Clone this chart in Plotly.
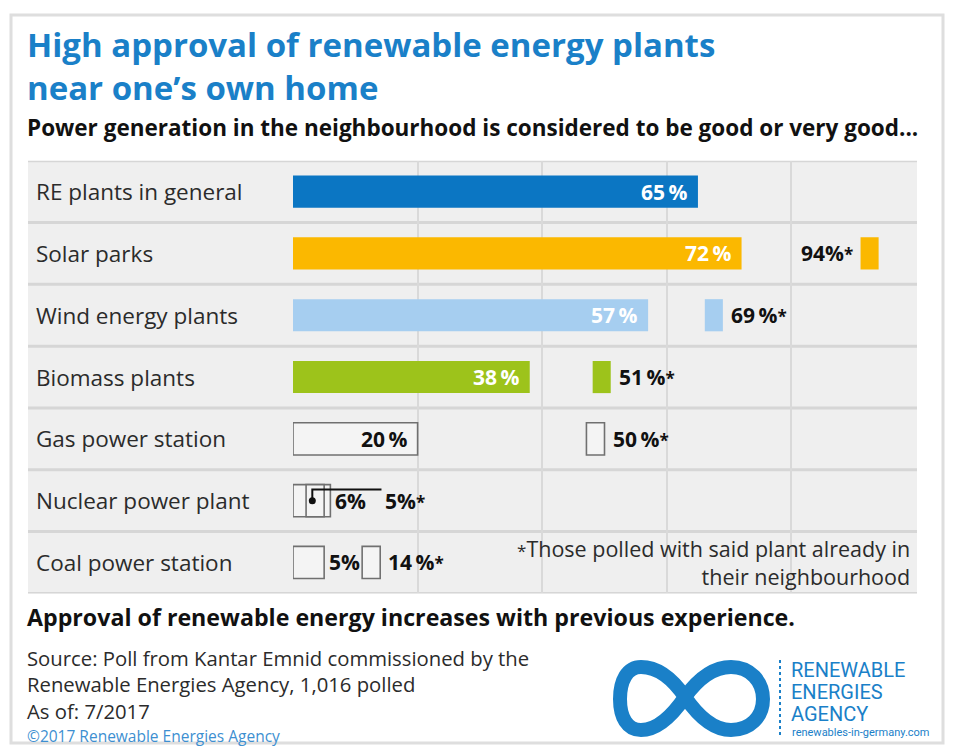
import plotly.graph_objects as go

# page body has an 8px margin: the figure is sized so it fills the rest of the 957x750 window
OFF = 8
W, H = 957 - OFF, 750 - OFF

# ---------------- data ----------------
categories = [
    "RE plants in general",
    "Solar parks",
    "Wind energy plants",
    "Biomass plants",
    "Gas power station",
    "Nuclear power plant",
    "Coal power station",
]
approval = [65, 72, 57, 38, 20, 6, 5]                      # all respondents, %
approval_with_plant = [None, 94, 69, 51, 50, 5, 14]        # * with plant already nearby, %

bar_colors = ["#0b76c3", "#fbb800", "#a6cef0", "#9dc31b", "#f4f4f4", "#f4f4f4", "#f4f4f4"]
outline = [False, False, False, False, True, True, True]

# ---------------- style / layout helpers ----------------
FONT = "Open Sans"
LOGO_FONT = "Roboto"
BLUE = "#1a80c8"
TXT = "#2b2b2b"
X0_PX, X100_PX = 293, 916
ROW_TOP_PX, ROW_BOT_PX = 160.7, 593.4
LABEL_LEFT_PX, ROWS_LEFT_PX, ROWS_RIGHT_PX = 36, 28, 917
STAR_W = 2.9           # width of the narrow "*" marker bars, in % units
AST = '<span style="font-size:17px">*</span>'


def px(x):
    return (x - OFF) / W


def py(y):
    return 1 - (y - OFF) / H


line_colors = ["#707070" if o else "rgba(0,0,0,0)" for o in outline]
line_widths = [1.6 if o else 0 for o in outline]

fig = go.Figure()

# main bars
fig.add_trace(go.Bar(
    x=approval, y=categories, orientation="h", width=0.52,
    marker=dict(color=bar_colors, line=dict(color=line_colors, width=line_widths)),
    hoverinfo="skip",
))

# narrow "*" bars (end at the value)
star_len = [STAR_W if v is not None else None for v in approval_with_plant]
star_base = [v - STAR_W if v is not None else None for v in approval_with_plant]
fig.add_trace(go.Bar(
    x=star_len, base=star_base, y=categories, orientation="h", width=0.52,
    marker=dict(color=bar_colors, line=dict(color=line_colors, width=line_widths)),
    hoverinfo="skip",
))

# leader dot for nuclear "*" value
nuc = categories.index("Nuclear power plant")
lx = approval_with_plant[nuc] - STAR_W + 1.0
lend = approval[nuc] + 8.2
fig.add_trace(go.Scatter(
    x=[lx], y=[categories[nuc]],
    mode="markers", marker=dict(color="#111", size=7), hoverinfo="skip",
))

shapes = []
# outer frame
shapes.append(dict(type="rect", xref="paper", yref="paper",
                   x0=px(11), x1=px(943), y0=py(743), y1=py(15),
                   line=dict(color="#dedede", width=3), fillcolor="white", layer="below"))
# rows background
shapes.append(dict(type="rect", xref="paper", yref="y",
                   x0=px(ROWS_LEFT_PX), x1=px(ROWS_RIGHT_PX), y0=-0.5, y1=len(categories) - 0.5,
                   line=dict(width=0), fillcolor="#efefef", layer="below"))
# row separators
for k in range(len(categories) + 1):
    shapes.append(dict(type="line", xref="paper", yref="y",
                       x0=px(ROWS_LEFT_PX), x1=px(ROWS_RIGHT_PX), y0=k - 0.5, y1=k - 0.5,
                       line=dict(color="#d6d6d6", width=3), layer="below"))
# nuclear leader line
shapes.append(dict(type="path", xref="x", yref="y",
                   path=f"M {lx},{nuc} L {lx},{nuc - 0.18} L {lend},{nuc - 0.18}",
                   line=dict(color="#111", width=2)))

# logo: infinity symbol
pts = [
    ("M", [(685, 697)]),
    ("C", [(698, 679), (713, 667), (731, 667)]),
    ("C", [(750, 667), (763, 681), (763, 699)]),
    ("C", [(763, 717), (750, 730), (731, 730)]),
    ("C", [(713, 730), (698, 716), (685, 697)]),
    ("C", [(672, 678), (657, 667), (641, 667)]),
    ("C", [(627, 667), (620, 681), (620, 699)]),
    ("C", [(620, 717), (627, 730), (641, 730)]),
    ("C", [(657, 730), (672, 716), (685, 697)]),
]
path = " ".join(cmd + " " + " ".join(f"{px(a):.5f},{py(b):.5f}" for a, b in p) for cmd, p in pts)
shapes.append(dict(type="path", xref="paper", yref="paper", path=path,
                   line=dict(color=BLUE, width=14)))
shapes.append(dict(type="line", xref="paper", yref="paper",
                   x0=px(780), x1=px(780), y0=py(660), y1=py(738),
                   line=dict(color=BLUE, width=2, dash="dot")))

ann = []


def text(x, y, s, size, color=TXT, bold=False, anchor="left", xref="paper", yref="paper",
         xshift=0, family=FONT):
    ann.append(dict(x=x, y=y, xref=xref, yref=yref, text=s, showarrow=False,
                    xanchor=anchor, yanchor="middle", xshift=xshift, align=anchor,
                    font=dict(family=family, size=size, color=color, weight=700 if bold else 400)))


# titles
text(px(25), py(66), "High approval of renewable energy plants<br>near one\u2019s own home", 33, BLUE, True)
text(px(25), py(128), "Power generation in the neighbourhood is considered to be good or very good...",
     22.5, "#111", True)

# row labels
for c in categories:
    text(px(LABEL_LEFT_PX - 2), c, c, 22.5, TXT, yref="y")

# value labels
for i, (c, v) in enumerate(zip(categories, approval)):
    if v >= 15:
        col = "white" if not outline[i] else "#111"
        text(v, c, f"{v}\u2009%", 21, col, True, "right", "x", "y", -8)
    else:
        text(v, c, f"{v}%", 21, "#111", True, "left", "x", "y", 3)

for i, (c, v) in enumerate(zip(categories, approval_with_plant)):
    if v is None:
        continue
    if i == nuc:
        text(lend, c, f"{v}%{AST}", 21, "#111", True, "left", "x", "y", 2)
    elif v > 90:
        text(v - STAR_W, c, f"{v}%{AST}", 21, "#111", True, "right", "x", "y", -6)
    else:
        text(v, c, f"{v}\u2009%{AST}", 21, "#111", True, "left", "x", "y", 6)

# footnote
text(px(912), py(562), f"{AST}Those polled with said plant already in<br>their neighbourhood",
     21.5, TXT, anchor="right")

# bottom texts
text(px(25), py(617), "Approval of renewable energy increases with previous experience.", 23.2, "#111", True)
text(px(25), py(684), "Source: Poll from Kantar Emnid commissioned by the<br>"
                      "Renewable Energies Agency, 1,016 polled<br>As of: 7/2017", 20.3, TXT)
text(px(25), py(736), "\u00a92017 Renewable Energies Agency", 15.5, "#3d8fd1")

# logo text
text(px(789), py(670), "RENEWABLE", 20, BLUE, family=LOGO_FONT)
text(px(789), py(692), "ENERGIES", 20, BLUE, family=LOGO_FONT)
text(px(789), py(714), "AGENCY", 20, BLUE, family=LOGO_FONT)
text(px(790), py(732), "renewables-in-germany.com", 11, BLUE, family=LOGO_FONT)

fig.update_layout(
    width=W, height=H,
    margin=dict(l=0, r=0, t=0, b=0),
    paper_bgcolor="white", plot_bgcolor="rgba(0,0,0,0)",
    barmode="overlay", showlegend=False,
    shapes=shapes, annotations=ann,
    xaxis=dict(domain=[px(X0_PX), px(X100_PX)], range=[0, 100],
               tickvals=[0, 20, 40, 60, 80], showticklabels=False,
               showgrid=True, gridcolor="#d9d9d9", gridwidth=1.5,
               zeroline=False, showline=False, fixedrange=True),
    yaxis=dict(domain=[py(ROW_BOT_PX), py(ROW_TOP_PX)], type="category",
               categoryorder="array", categoryarray=categories,
               range=[len(categories) - 0.5, -0.5], showticklabels=False,
               showgrid=False, zeroline=False, fixedrange=True),
    font=dict(family=FONT),
)

fig.write_html("out.html")
